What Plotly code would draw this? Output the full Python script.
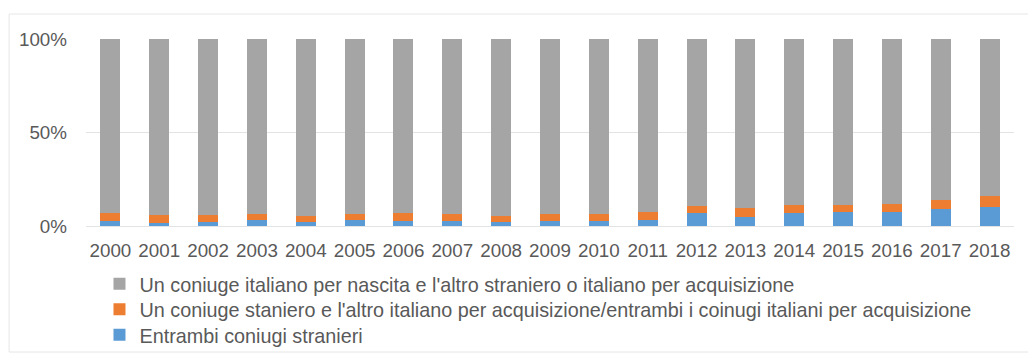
import plotly.graph_objects as go

years = [str(y) for y in range(2000, 2019)]
# percentages
entrambi_stranieri = [2.5, 1.8, 2.0, 3.0, 2.1, 3.0, 2.5, 2.5, 2.0, 2.5, 2.9, 3.4, 6.8, 4.6, 6.8, 7.7, 7.7, 8.9, 10.4]
totale_misti = [6.8, 5.7, 5.7, 6.2, 5.2, 6.2, 6.8, 6.4, 5.2, 6.2, 6.4, 7.3, 10.7, 9.8, 11.2, 11.2, 11.8, 13.9, 16.1]
uno_straniero = [round(t - b, 1) for t, b in zip(totale_misti, entrambi_stranieri)]
italiano_nascita = [round(100 - t, 1) for t in totale_misti]
y_ticks = [0, 50, 100]
y_tick_labels = ["0%", "50%", "100%"]

names = [
    "Entrambi coniugi stranieri",
    "Un coniuge staniero e l'altro italiano per acquisizione/entrambi i coinugi italiani per acquisizione",
    "Un coniuge italiano per nascita e l'altro straniero o italiano per acquisizione",
]
colors = ["#5B9BD5", "#ED7D31", "#A5A5A5"]
series = [entrambi_stranieri, uno_straniero, italiano_nascita]
legend_ids = ["legend3", "legend2", "legend"]
legend_rows_px = [335, 309.5, 284]

font_family = "Liberation Sans, Arial, sans-serif"
PW, PH = 929, 187
L, T = 85.5, 39

fig = go.Figure()
for n, c, v, lg in zip(names, colors, series, legend_ids):
    fig.add_trace(go.Bar(x=years, y=v, name=n, legend=lg, showlegend=True,
                         marker=dict(color=c, line=dict(width=0))))

legend_style = dict(
    xanchor="left", yanchor="middle",
    x=(99 - L) / PW,
    font=dict(size=19.8, color="#595959", family=font_family),
    bgcolor="rgba(0,0,0,0)", borderwidth=0,
)
legend_layout = {}
for lg, row in zip(legend_ids, legend_rows_px):
    legend_layout[lg] = dict(legend_style, y=(226 - row) / PH)

fig.update_layout(
    width=1028, height=354,
    showlegend=True,
    barmode="stack", bargap=0.59,
    paper_bgcolor="white", plot_bgcolor="white",
    margin=dict(l=L, r=13.5, t=T, b=128, pad=0, autoexpand=False),
    font=dict(family=font_family, size=18.8, color="#595959"),
    xaxis=dict(
        type="category", showgrid=False, zeroline=False, showline=False,
        ticks="", ticklabelstandoff=11, tickfont=dict(size=18.8), tickangle=0,
    ),
    yaxis=dict(
        range=[0, 100], tickmode="array", tickvals=y_ticks, ticktext=y_tick_labels,
        showgrid=True, gridcolor="#E3E3E3", gridwidth=1,
        zeroline=True, zerolinecolor="#E3E3E3", zerolinewidth=1,
        showline=False, ticks="", ticklabelstandoff=18,
        tickfont=dict(size=18.8),
    ),
    shapes=[dict(
        type="rect", xref="paper", yref="paper",
        x0=-(L - 8.5) / PW, x1=(1030 - L) / PW,
        y0=-(352 - 226) / PH, y1=(226 - 14) / PH,
        line=dict(color="#E6E6E6", width=1), fillcolor="rgba(0,0,0,0)", layer="below",
    )],
    **legend_layout,
)

fig.write_html("out.html")
